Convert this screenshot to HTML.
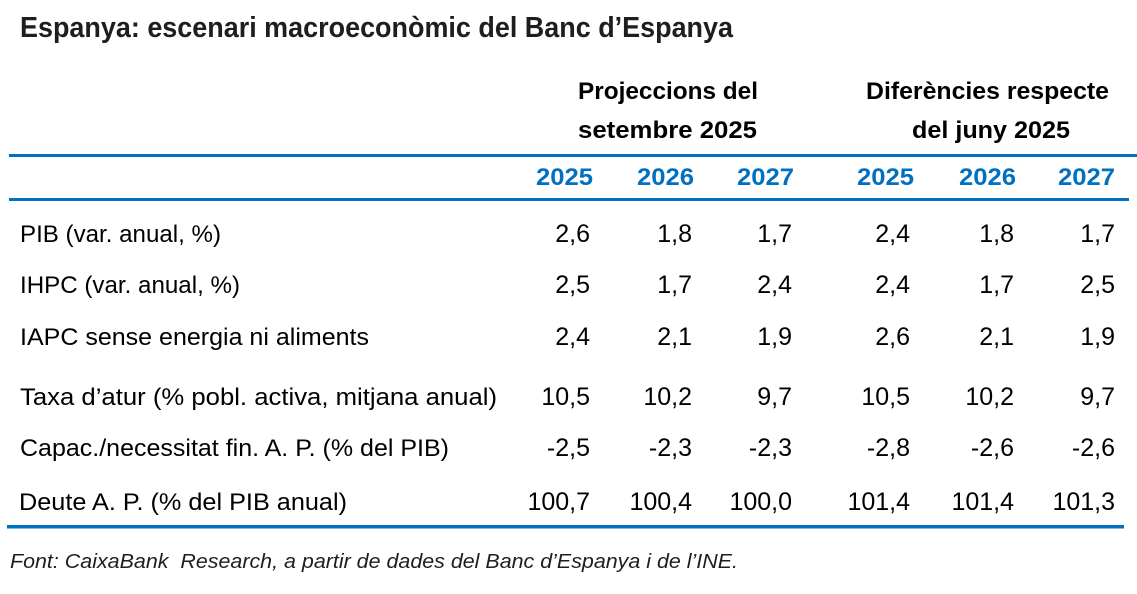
<!DOCTYPE html>
<html>
<head>
<meta charset="utf-8">
<style>
  html,body{margin:0;padding:0;background:#fff;}
  body{width:1137px;height:594px;overflow:hidden;}
  svg{display:block;}
  text{font-family:"Liberation Sans", Arial, sans-serif;}
  .t{font-weight:bold;font-size:29px;fill:#1e1e1e;}
  .h{font-weight:bold;font-size:24px;fill:#000;}
  .y{font-weight:bold;font-size:24px;fill:#0070C0;}
  .l{font-size:24.5px;fill:#000;}
  .n{font-size:25px;fill:#000;text-anchor:end;}
  .f{font-style:italic;font-size:20.5px;fill:#1e1e1e;white-space:pre;}
</style>
</head>
<body>
<svg width="1137" height="594" viewBox="0 0 1137 594" xmlns="http://www.w3.org/2000/svg">
  <rect width="1137" height="594" fill="#fff"/>
  <!-- Title -->
  <text class="t" x="20" y="37" textLength="713" lengthAdjust="spacingAndGlyphs">Espanya: escenari macroeconòmic del Banc d’Espanya</text>

  <!-- Group headers -->
  <text class="h" x="578" y="99" textLength="180" lengthAdjust="spacingAndGlyphs">Projeccions del</text>
  <text class="h" x="578" y="138" textLength="179" lengthAdjust="spacingAndGlyphs">setembre 2025</text>
  <text class="h" x="866" y="99" textLength="243" lengthAdjust="spacingAndGlyphs">Diferències respecte</text>
  <text class="h" x="912" y="138" textLength="158" lengthAdjust="spacingAndGlyphs">del juny 2025</text>

  <!-- Lines -->
  <rect x="9" y="154" width="1128" height="3" fill="#0070C0"/>
  <rect x="9" y="198" width="1120" height="3" fill="#0070C0"/>
  <rect x="7" y="525" width="1117" height="3.5" fill="#0070C0"/>

  <!-- Year headers -->
  <text class="y" x="536" y="185" textLength="57" lengthAdjust="spacingAndGlyphs">2025</text>
  <text class="y" x="637" y="185" textLength="57" lengthAdjust="spacingAndGlyphs">2026</text>
  <text class="y" x="737" y="185" textLength="57" lengthAdjust="spacingAndGlyphs">2027</text>
  <text class="y" x="857" y="185" textLength="57" lengthAdjust="spacingAndGlyphs">2025</text>
  <text class="y" x="959" y="185" textLength="57" lengthAdjust="spacingAndGlyphs">2026</text>
  <text class="y" x="1058" y="185" textLength="57" lengthAdjust="spacingAndGlyphs">2027</text>

  <!-- Row labels -->
  <text class="l" x="20" y="242" textLength="201" lengthAdjust="spacingAndGlyphs">PIB (var. anual, %)</text>
  <text class="l" x="20" y="293" textLength="220" lengthAdjust="spacingAndGlyphs">IHPC (var. anual, %)</text>
  <text class="l" x="20" y="345" textLength="349" lengthAdjust="spacingAndGlyphs">IAPC sense energia ni aliments</text>
  <text class="l" x="20" y="405" textLength="477" lengthAdjust="spacingAndGlyphs">Taxa d’atur (% pobl. activa, mitjana anual)</text>
  <text class="l" x="20" y="456" textLength="429" lengthAdjust="spacingAndGlyphs">Capac./necessitat fin. A. P. (% del PIB)</text>
  <text class="l" x="19" y="510" textLength="328" lengthAdjust="spacingAndGlyphs">Deute A. P. (% del PIB anual)</text>

  <!-- Row 1 -->
  <text class="n" x="590" y="242">2,6</text>
  <text class="n" x="692" y="242">1,8</text>
  <text class="n" x="792" y="242">1,7</text>
  <text class="n" x="910" y="242">2,4</text>
  <text class="n" x="1014" y="242">1,8</text>
  <text class="n" x="1115" y="242">1,7</text>
  <!-- Row 2 -->
  <text class="n" x="590" y="293">2,5</text>
  <text class="n" x="692" y="293">1,7</text>
  <text class="n" x="792" y="293">2,4</text>
  <text class="n" x="910" y="293">2,4</text>
  <text class="n" x="1014" y="293">1,7</text>
  <text class="n" x="1115" y="293">2,5</text>
  <!-- Row 3 -->
  <text class="n" x="590" y="345">2,4</text>
  <text class="n" x="692" y="345">2,1</text>
  <text class="n" x="792" y="345">1,9</text>
  <text class="n" x="910" y="345">2,6</text>
  <text class="n" x="1014" y="345">2,1</text>
  <text class="n" x="1115" y="345">1,9</text>
  <!-- Row 4 -->
  <text class="n" x="590" y="405">10,5</text>
  <text class="n" x="692" y="405">10,2</text>
  <text class="n" x="792" y="405">9,7</text>
  <text class="n" x="910" y="405">10,5</text>
  <text class="n" x="1014" y="405">10,2</text>
  <text class="n" x="1115" y="405">9,7</text>
  <!-- Row 5 -->
  <text class="n" x="590" y="456">-2,5</text>
  <text class="n" x="692" y="456">-2,3</text>
  <text class="n" x="792" y="456">-2,3</text>
  <text class="n" x="910" y="456">-2,8</text>
  <text class="n" x="1014" y="456">-2,6</text>
  <text class="n" x="1115" y="456">-2,6</text>
  <!-- Row 6 -->
  <text class="n" x="590" y="510">100,7</text>
  <text class="n" x="692" y="510">100,4</text>
  <text class="n" x="792" y="510">100,0</text>
  <text class="n" x="910" y="510">101,4</text>
  <text class="n" x="1014" y="510">101,4</text>
  <text class="n" x="1115" y="510">101,3</text>

  <!-- Footer -->
  <text class="f" x="10" y="568" textLength="728" lengthAdjust="spacingAndGlyphs" xml:space="preserve">Font: CaixaBank  Research, a partir de dades del Banc d’Espanya i de l’INE.</text>
</svg>
</body>
</html>
